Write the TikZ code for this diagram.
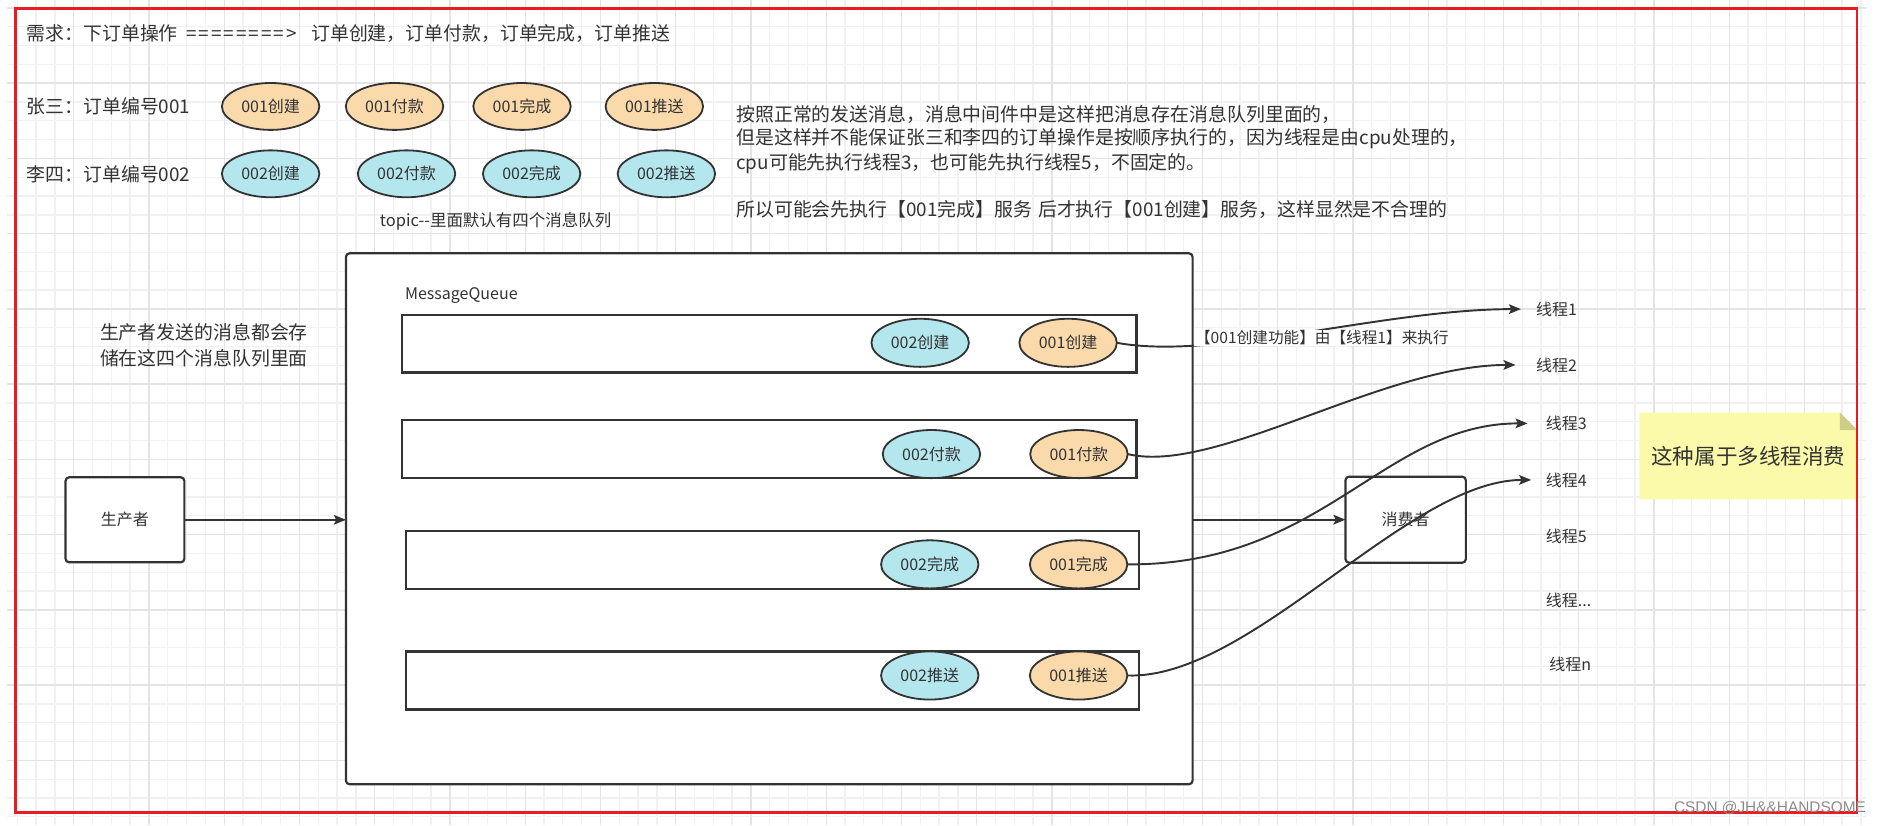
\documentclass[tikz,border=0pt]{standalone}
\usepackage{fontspec}
\setmainfont{Noto Sans CJK SC}
\newfontfamily\wmfont{Liberation Sans}
\usetikzlibrary{arrows.meta,shapes.geometric}
\definecolor{txtc}{RGB}{51,51,51}
\definecolor{linec}{RGB}{51,51,51}
\definecolor{orf}{RGB}{250,217,171}
\definecolor{cyf}{RGB}{180,230,238}
\definecolor{notef}{RGB}{250,250,170}
\definecolor{foldf}{RGB}{205,205,135}
\definecolor{redc}{RGB}{232,28,36}
\definecolor{gmin}{RGB}{241,241,241}
\definecolor{gmaj}{RGB}{228,228,228}
\definecolor{wmc}{RGB}{140,140,140}
\begin{document}
\begin{tikzpicture}[x=1pt,y=-1pt,
 bigtxt/.style={text=txtc,inner sep=0pt,font=\fontsize{15.7}{20}\selectfont},
 smalltxt/.style={text=txtc,inner sep=0pt,font=\fontsize{13.3}{16}\selectfont},
 ordell/.style={ellipse,draw=linec,line width=1.5pt,minimum width=81pt,minimum height=39pt,inner sep=0pt,outer sep=0pt,text=txtc,font=\fontsize{13.3}{16}\selectfont},
 ell1/.style={ordell,fill=orf},
 ell2/.style={ordell,fill=cyf},
 queue/.style={rectangle,draw=linec,line width=2pt,fill=white,inner sep=0pt,outer sep=0pt},
 boxs/.style={rectangle,draw=linec,line width=1.8pt,fill=white,rounded corners=3pt,inner sep=0pt,outer sep=0pt,text=txtc,font=\fontsize{13.3}{16}\selectfont},
 conn/.style={draw=linec,line width=1.6pt,-{Stealth[length=10pt,width=8pt,inset=2pt]}},
 gridmin/.style={draw=gmin,line width=1.1pt},
 gridmaj/.style={draw=gmaj,line width=1.1pt},
 ]
\useasboundingbox (0,0) rectangle (1568,686);
\fill[white] (0,0) rectangle (1568,686);
% background grid
\foreach \k in {0,...,98} \draw[gridmin] ({14.36+15.64*\k},0) -- ({14.36+15.64*\k},686);
\foreach \k in {0,...,43} \draw[gridmin] (6,{6.57+15.64*\k}) -- (1551,{6.57+15.64*\k});
\foreach \k in {1,...,24} \draw[gridmaj] ({-1.29+62.56*\k},0) -- ({-1.29+62.56*\k},686);
\foreach \k in {0,...,10} \draw[gridmaj] (6,{6.57+62.56*\k}) -- (1551,{6.57+62.56*\k});

% header texts
\node[bigtxt,anchor=west] (title) at (22,28) {需求：下订单操作\hspace{7pt}\makebox[92pt][s]{=\hfill=\hfill=\hfill=\hfill=\hfill=\hfill=\hfill=\hfill>}\hspace{12pt}订单创建，订单付款，订单完成，订单推送};
\node[bigtxt,anchor=west] (zs) at (22,88) {张三：订单编号001};
\node[bigtxt,anchor=west] (ls) at (22,145) {李四：订单编号002};
\node[ell1] (a1) at (225,88.5) {001创建};
\node[ell1] (a2) at (328,88.5) {001付款};
\node[ell1] (a3) at (434,88.5) {001完成};
\node[ell1] (a4) at (544,88.5) {001推送};
\node[ell2] (b1) at (225,144.5) {002创建};
\node[ell2] (b2) at (338,144.5) {002付款};
\node[ell2] (b3) at (442,144.5) {002完成};
\node[ell2] (b4) at (554,144.5) {002推送};
\node[text=txtc,inner sep=0pt,font=\fontsize{13.7}{16}\selectfont] (topic) at (412,184) {topic{-}{-}里面默认有四个消息队列};

\node[bigtxt,anchor=west] (p1) at (612,95) {按照正常的发送消息，消息中间件中是这样把消息存在消息队列里面的，};
\node[bigtxt,anchor=west] (p2) at (612,115.5) {但是这样并不能保证张三和李四的订单操作是按顺序执行的，因为线程是由cpu处理的，};
\node[bigtxt,anchor=west] (p3) at (612,136) {cpu可能先执行线程3，也可能先执行线程5，不固定的。};
\node[bigtxt,anchor=west] (p4) at (612,174.5) {所以可能会先执行【001完成】服务\hspace{5pt}后才执行【001创建】服务，这样显然是不合理的};

% producer side
\node[bigtxt,anchor=west] (ptext1) at (83,276) {生产者发送的消息都会存};
\node[bigtxt,anchor=west] (ptext2) at (83,298) {储在这四个消息队列里面};
\node[boxs,minimum width=98.8pt,minimum height=70.7pt] (prod) at (103.9,432.15) {生产者};

% message queue
\node[boxs,minimum width=703.9pt,minimum height=441.4pt] (mq) at (639.55,431.3) {};
\node[smalltxt,anchor=west] (mqlabel) at (336.6,245.8) {MessageQueue};
\node[queue,minimum width=611pt,minimum height=47.9pt] (q1) at (639.5,285.85) {};
\node[queue,minimum width=611pt,minimum height=48.6pt] (q2) at (639.5,373.3) {};
\node[queue,minimum width=609.5pt,minimum height=48.2pt] (q3) at (642.25,465.5) {};
\node[queue,minimum width=609.5pt,minimum height=48pt] (q4) at (642.25,565.7) {};
\node[ell2,minimum height=40pt] (c1) at (765,285) {002创建};
\node[ell1,minimum height=40pt] (d1) at (888,285) {001创建};
\node[ell2,minimum height=40pt] (c2) at (774.4,377.5) {002付款};
\node[ell1,minimum height=40pt] (d2) at (897,377.5) {001付款};
\node[ell2,minimum height=40pt] (c3) at (773,469.2) {002完成};
\node[ell1,minimum height=40pt] (d3) at (896.7,469.2) {001完成};
\node[ell2,minimum height=40pt] (c4) at (773,561.6) {002推送};
\node[ell1,minimum height=40pt] (d4) at (896.7,561.6) {001推送};

% consumer
\node[boxs,minimum width=100.1pt,minimum height=71.5pt] (cons) at (1168.65,432.05) {消费者};

% threads
\node[smalltxt,anchor=west] (t1) at (1277,257) {线程1};
\node[smalltxt,anchor=west] (t2) at (1277,303.4) {线程2};
\node[smalltxt,anchor=west] (t3) at (1285,352) {线程3};
\node[smalltxt,anchor=west] (t4) at (1285,399) {线程4};
\node[smalltxt,anchor=west] (t5) at (1285,446) {线程5};
\node[smalltxt,anchor=west] (t6) at (1285,498.8) {线程...};
\node[smalltxt,anchor=west] (t7) at (1288,552) {线程n};

% straight connectors
\draw[conn] (prod.east) -- (prod.east -| mq.west);
\draw[conn] (cons.west -| mq.east) -- (cons.west);

% curved connectors
\draw[conn] (d1.east) .. controls +(82,15) and +(-114.5,0) .. ([xshift=-12.5pt]t1.west);
\draw[conn] (d2.east) .. controls +(73,17.5) and +(-110,0) .. ([xshift=-17pt]t2.west);
\draw[conn] (d3.east) .. controls +(163,1) and +(-120,0) .. ([xshift=-15pt]t3.west);
\draw[conn] (d4.east) .. controls +(103,3.4) and +(-103,0) .. ([xshift=-12pt]t4.west);
\node[smalltxt,fill=white,inner sep=1pt,font=\fontsize{13}{16}\selectfont] (elabel) at (1099,281) {【001创建功能】由【线程1】来执行};

% note
\fill[notef] (1362.9,343.1) -- (1529.7,343.1) -- (1544.1,357.5) -- (1544.1,415.1) -- (1362.9,415.1) -- cycle;
\fill[foldf] (1529.7,343.1) -- (1529.7,357.5) -- (1544.1,357.5) -- cycle;
\node[text=txtc,inner sep=0pt,font=\fontsize{17.9}{20}\selectfont] (note) at (1453.5,379.7) {这种属于多线程消费};

% red frame
\draw[redc,line width=2.2pt] (13,6.9) rectangle (1544,675.3);

% watermark
\node[text=wmc,inner sep=0pt,font=\wmfont\fontsize{12.8}{14}\selectfont] (wm) at (1471.5,671.5) {CSDN @JH\&\&HANDSOME};
\end{tikzpicture}
\end{document}
